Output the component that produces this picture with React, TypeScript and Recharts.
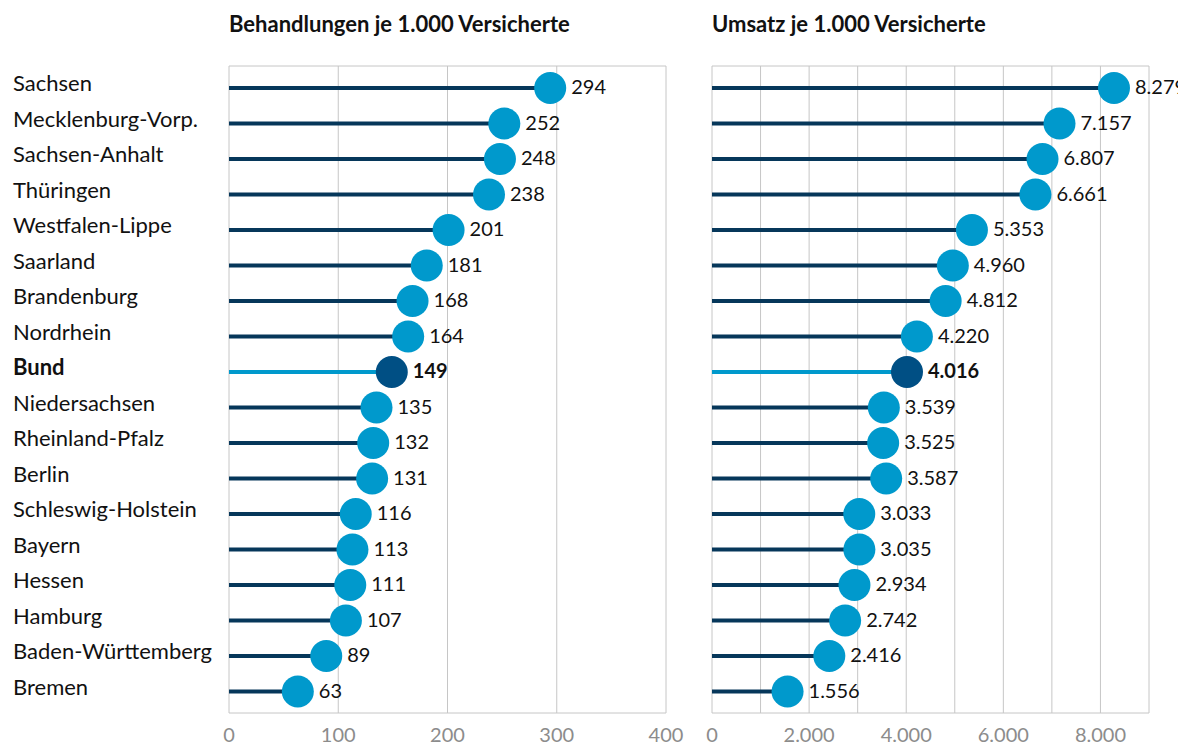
import React from "react";
import {
  BarChart,
  Bar,
  XAxis,
  YAxis,
  CartesianGrid,
  LabelList,
} from "recharts";

const states = [
  "Sachsen",
  "Mecklenburg-Vorp.",
  "Sachsen-Anhalt",
  "Thüringen",
  "Westfalen-Lippe",
  "Saarland",
  "Brandenburg",
  "Nordrhein",
  "Bund",
  "Niedersachsen",
  "Rheinland-Pfalz",
  "Berlin",
  "Schleswig-Holstein",
  "Bayern",
  "Hessen",
  "Hamburg",
  "Baden-Württemberg",
  "Bremen",
];

const behandlungen = [294, 252, 248, 238, 201, 181, 168, 164, 149, 135, 132, 131, 116, 113, 111, 107, 89, 63];
const umsatz = [8279, 7157, 6807, 6661, 5353, 4960, 4812, 4220, 4016, 3539, 3525, 3587, 3033, 3035, 2934, 2742, 2416, 1556];

const leftTicks = [0, 100, 200, 300, 400];
const rightTicks = [0, 1000, 2000, 3000, 4000, 5000, 6000, 7000, 8000, 9000];

const data = states.map((name, i) => ({
  name,
  behandlungen: behandlungen[i],
  umsatz: umsatz[i],
}));

const FONT = "Lato, 'Open Sans', sans-serif";
const LINE = "#06375a";
const DOT = "#0099cc";
const BUND_LINE = "#0099cc";
const BUND_DOT = "#004f84";
const GRID = "#c6c6c6";

const fmt = (v: number) => v.toLocaleString("de-DE");

const Lollipop = (props: any) => {
  const { x, y, width, height, payload } = props;
  const bund = payload && payload.name === "Bund";
  const cy = y + height / 2;
  return (
    <g>
      <rect x={x} y={cy - 2} width={width} height={4} fill={bund ? BUND_LINE : LINE} />
      <circle cx={x + width} cy={cy} r={16} fill={bund ? BUND_DOT : DOT} />
    </g>
  );
};

const ValueLabel = (props: any) => {
  const { x, y, width, height, value, index } = props;
  const bund = states[index] === "Bund";
  return (
    <text
      x={x + width + 21}
      y={y + height / 2 - 2}
      dominantBaseline="central"
      fontSize={20}
      fontFamily={FONT}
      fontWeight={bund ? 700 : 400}
      fill="#111"
    >
      {fmt(value)}
    </text>
  );
};

const StateTick = (props: any) => {
  const { y, payload } = props;
  const bund = payload.value === "Bund";
  return (
    <text
      x={5}
      y={y - 5}
      dominantBaseline="central"
      fontSize={22}
      fontFamily={FONT}
      fontWeight={bund ? 700 : 400}
      fill="#111"
    >
      {payload.value}
    </text>
  );
};

const boxLines = ({ offset }: any) => [offset.top, offset.top + offset.height];

const titleStyle: React.CSSProperties = {
  position: "absolute",
  top: 2,
  fontFamily: FONT,
  fontWeight: 700,
  fontSize: 22,
  color: "#111",
  whiteSpace: "nowrap",
};

const tickStyle = { fill: "#8c8c8c", fontSize: 20, fontFamily: FONT };

export default function App() {
  return (
    <div style={{ position: "relative", width: 1178, height: 738, fontFamily: FONT }}>
      <style>{"#root { width: 1178px; } .recharts-surface { overflow: visible; }"}</style>
      <div style={{ ...titleStyle, left: 221 }}>Behandlungen je 1.000 Versicherte</div>
      <div style={{ ...titleStyle, left: 704 }}>Umsatz je 1.000 Versicherte</div>

      <div style={{ position: "absolute", left: 0, top: 0 }}>
        <BarChart
          width={682}
          height={738}
          data={data}
          layout="vertical"
          margin={{ top: 58, right: 24, bottom: 3, left: 0 }}
          barCategoryGap={0}
        >
          <CartesianGrid stroke={GRID} horizontalCoordinatesGenerator={boxLines} />
          <XAxis
            type="number"
            domain={[0, 400]}
            ticks={leftTicks}
            axisLine={false}
            tickLine={false}
            height={30}
            tickMargin={9}
            tick={tickStyle}
            interval={0}
          />
          <YAxis
            type="category"
            dataKey="name"
            width={221}
            axisLine={false}
            tickLine={false}
            interval={0}
            padding={{ top: 4, bottom: 4 }}
            tick={<StateTick />}
          />
          <Bar dataKey="behandlungen" barSize={4} shape={<Lollipop />} isAnimationActive={false}>
            <LabelList dataKey="behandlungen" content={<ValueLabel />} />
          </Bar>
        </BarChart>
      </div>

      <div style={{ position: "absolute", left: 682, top: 0 }}>
        <BarChart
          width={496}
          height={738}
          data={data}
          layout="vertical"
          margin={{ top: 58, right: 37, bottom: 3, left: 22 }}
          barCategoryGap={0}
        >
          <CartesianGrid stroke={GRID} horizontalCoordinatesGenerator={boxLines} />
          <XAxis
            type="number"
            domain={[0, 9000]}
            ticks={rightTicks}
            axisLine={false}
            tickLine={false}
            height={30}
            tickMargin={9}
            interval={0}
            tickFormatter={(v: number) => (v % 2000 === 0 ? fmt(v) : "")}
            tick={tickStyle}
          />
          <YAxis type="category" dataKey="name" hide padding={{ top: 4, bottom: 4 }} />
          <Bar dataKey="umsatz" barSize={4} shape={<Lollipop />} isAnimationActive={false}>
            <LabelList dataKey="umsatz" content={<ValueLabel />} />
          </Bar>
        </BarChart>
      </div>
    </div>
  );
}
